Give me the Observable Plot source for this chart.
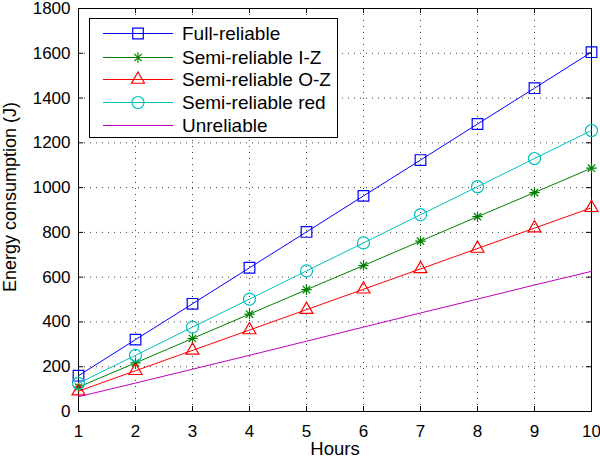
<!DOCTYPE html>
<html><head><meta charset="utf-8">
<script src="https://cdn.jsdelivr.net/npm/d3@7"></script>
<script src="https://cdn.jsdelivr.net/npm/@observablehq/plot@0.6"></script>
<style>
body{margin:0;background:#fff;font-family:Arial,"Liberation Sans",sans-serif}
#wrap{position:relative;width:600px;height:461px}
#legend{position:absolute;left:89px;top:18px;width:249px;height:120px;background:#fff;border:1px solid #000;box-sizing:border-box}
.row{position:absolute;left:0;height:23px;width:100%}
.row svg{position:absolute;left:0;top:0}
.row span{position:absolute;left:92px;top:0;line-height:23px;font-size:19px;color:#000;white-space:nowrap}
</style>
</head><body><div id="wrap"><div id="chart"></div><div id="legend"></div></div>
<script>
const hours = [1,2,3,4,5,6,7,8,9,10];
const fullReliable = [160,321,481,642,802,963,1123,1284,1444,1605];
const semiIZ = [109,217,326,435,544,652,761,870,978,1087];
const semiOZ = [91,182,273,364,455,546,637,728,819,910];
const semiRed = [126,251,377,502,628,753,879,1004,1130,1255];
const unreliable = [66,127,189,251,314,377,440,502,565,626];
const seriesNames = ["Full-reliable","Semi-reliable I-Z","Semi-reliable O-Z","Semi-reliable red","Unreliable"];
const seriesValues = [fullReliable, semiIZ, semiOZ, semiRed, unreliable];
const seriesColors = ["#0000ff","#008000","#ff0000","#00bfbf","#bf00bf"];
const seriesSymbols = ["square","asterisk","triangle","circle",null];
const symbolR = {square:6, asterisk:5.2, triangle:4.8, circle:6};
const xTicks = [1,2,3,4,5,6,7,8,9,10];
const yTicks = [0,200,400,600,800,1000,1200,1400,1600,1800];

// MATLAB-style 8-armed asterisk (plus + cross)
const matlabStar = {
  draw(context, size) {
    const r = Math.sqrt(size / Math.PI), d = r * Math.SQRT1_2;
    context.moveTo(-r, 0); context.lineTo(r, 0);
    context.moveTo(0, -r); context.lineTo(0, r);
    context.moveTo(-d, -d); context.lineTo(d, d);
    context.moveTo(-d, d); context.lineTo(d, -d);
  }
};
const symbolObjs = {square:d3.symbolSquare, asterisk:matlabStar, triangle:d3.symbolTriangle, circle:d3.symbolCircle};

const rows = [];
seriesNames.forEach((s,i)=>hours.forEach((h,j)=>rows.push({series:s, hour:h, value:seriesValues[i][j]})));

const W=600,H=461,mL=78,mR=9,mT=8,mB=50;
const innerH = H-mT-mB;
const tickLen = 5;

const marks = [
  Plot.gridX(xTicks, {stroke:"#000", strokeOpacity:0.75, strokeDasharray:"1,5"}),
  Plot.gridY(yTicks, {stroke:"#000", strokeOpacity:0.75, strokeDasharray:"1,5"}),
  Plot.tickX(xTicks, {x:d=>d, insetTop: innerH-tickLen, stroke:"#000"}),
  Plot.tickX(xTicks, {x:d=>d, insetBottom: innerH-tickLen, stroke:"#000"}),
  Plot.tickY(yTicks, {y:d=>d, insetRight: (W-mL-mR)-tickLen, stroke:"#000"}),
  Plot.tickY(yTicks, {y:d=>d, insetLeft: (W-mL-mR)-tickLen, stroke:"#000"}),
  Plot.axisX(xTicks, {tickSize:0, tickPadding:13, fontSize:17, tickFormat:d=>String(d), label:null}),
  Plot.axisY(yTicks, {tickSize:0, tickPadding:8, fontSize:17, tickFormat:d=>String(d), label:null}),
  Plot.frame({stroke:"#000"}),
];
seriesNames.forEach((s,i)=>{
  const data = rows.filter(d=>d.series===s);
  marks.push(Plot.line(data, {x:"hour", y:"value", stroke:seriesColors[i], strokeWidth:1}));
  if (seriesSymbols[i]) {
    marks.push(Plot.dot(data, {x:"hour", y:"value", symbol:symbolObjs[seriesSymbols[i]], r:symbolR[seriesSymbols[i]], stroke:seriesColors[i], fill:"none", strokeWidth:1.2}));
  }
});
marks.push(Plot.text(["Hours"], {frameAnchor:"bottom", dy:43, fontSize:18.5, fill:"#000"}));
marks.push(Plot.text(["Energy consumption (J)"], {frameAnchor:"left", textAnchor:"middle", dx:-68, dy:-13, rotate:-90, fontSize:18, fill:"#000"}));

const chart = Plot.plot({
  width:W, height:H,
  marginLeft:mL, marginRight:mR, marginTop:mT, marginBottom:mB,
  style:{fontFamily:"Arial, 'Liberation Sans', sans-serif", fontSize:"17px", color:"#000", background:"#fff", overflow:"visible"},
  x:{domain:[1,10], ticks:xTicks},
  y:{domain:[0,1800], ticks:yTicks},
  marks
});
document.getElementById("chart").appendChild(chart);

// legend
const legend = d3.select("#legend");
const rowCenters = [15,39,61,84,107];
seriesNames.forEach((s,i)=>{
  const row = legend.append("div").attr("class","row").style("top",(rowCenters[i]-11.5-1)+"px");
  const svg = row.append("svg").attr("width",92).attr("height",23);
  svg.append("line").attr("x1",13).attr("x2",83).attr("y1",11.5).attr("y2",11.5).attr("stroke",seriesColors[i]).attr("stroke-width",1);
  if (seriesSymbols[i]) {
    const r = symbolR[seriesSymbols[i]];
    svg.append("path").attr("transform","translate(48,11.5)")
      .attr("d", d3.symbol(symbolObjs[seriesSymbols[i]], Math.PI*r*r)())
      .attr("fill","none").attr("stroke",seriesColors[i]).attr("stroke-width",1.2);
  }
  row.append("span").text(s);
});
</script>
</body></html>
